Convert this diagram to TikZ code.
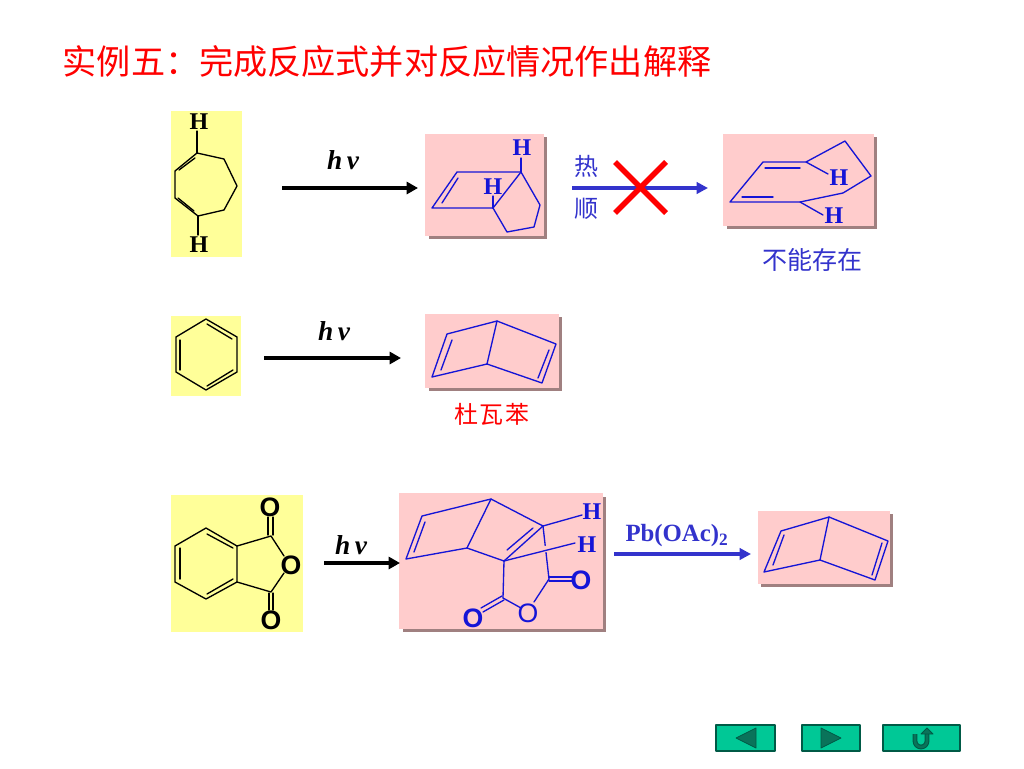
\documentclass[tikz,border=0pt]{standalone}
\usepackage{fontspec}
\setmainfont{Liberation Serif}
\setsansfont{Liberation Sans}
\newfontfamily\cjk{Noto Sans CJK SC}
\usetikzlibrary{arrows,arrows.meta}
\definecolor{boxyellow}{RGB}{255,255,153}
\definecolor{boxpink}{RGB}{255,204,204}
\definecolor{boxshadow}{RGB}{160,128,128}
\definecolor{molblue}{RGB}{20,20,215}
\definecolor{txtblue}{RGB}{51,51,204}
\definecolor{btnfill}{RGB}{0,200,150}
\definecolor{btnedge}{RGB}{0,90,70}
\definecolor{btnmark}{RGB}{10,115,90}
\tikzset{
  bond/.style={line width=1pt,color=black},
  bbond/.style={line width=1pt,color=molblue},
  rarrow/.style={line width=2.5pt,line cap=butt,color=black,-{Triangle[length=8.5pt,width=9pt]}},
  barrow/.style={line width=2.4pt,line cap=butt,color=txtblue,-{Triangle[length=8.5pt,width=8.5pt]}},
  atomh/.style={inner sep=0pt,font=\fontsize{18pt}{20pt}\selectfont\bfseries},
  atomo/.style={inner sep=0pt,font=\fontsize{20pt}{22pt}\selectfont\sffamily\bfseries},
  light/.style={font=\fontsize{20.5pt}{22pt}\selectfont\bfseries\itshape,inner sep=0pt},
  cjktext/.style={inner sep=0pt,font=\fontsize{18pt}{20pt}\selectfont\cjk},
  button/.style={draw=btnedge,fill=btnfill,line width=0.9pt},
  btnglyph/.style={draw=btnedge,fill=btnmark,line width=0.6pt}
}
\begin{document}
\begin{tikzpicture}[line cap=round,line join=round,>=triangle 45,x=0.75pt,y=-0.75pt]
\useasboundingbox (0,0) rectangle (1024,768);
\node [inner sep=0pt,color=red,font=\fontsize{25.6pt}{28pt}\selectfont\cjk] (title) at (387,61) {实例五：完成反应式并对反应情况作出解释};
% boxes
\fill [boxyellow] (171,111) rectangle (242,257);
\fill [boxyellow] (171,316) rectangle (241,396);
\fill [boxyellow] (171,495) rectangle (303,632);
\fill [boxshadow] (429,137) rectangle (547,239);
\fill [boxpink] (425,134) rectangle (544,236);
\fill [boxshadow] (727,137) rectangle (877,229);
\fill [boxpink] (723,134) rectangle (874,226);
\fill [boxshadow] (429,317) rectangle (562,391);
\fill [boxpink] (425,314) rectangle (559,388);
\fill [boxshadow] (403,497) rectangle (606,632);
\fill [boxpink] (399,493) rectangle (603,629);
\fill [boxshadow] (761,514) rectangle (893,587);
\fill [boxpink] (758,511) rectangle (890,584);
% cycloheptadiene
\draw [bond] (197,153)-- (224,159)-- (237,186)-- (224,210)-- (198,216)-- (175,198)-- (175,171)-- cycle;
\draw [bond] (195,158)-- (179,170);
\draw [bond] (178,198)-- (194,211);
\draw [bond] (197,153)-- (197,131);
\draw [bond] (198,216)-- (198,235);
\node [atomh] (hA) at (199,122) {H};
\node [atomh] (hB) at (199,245) {H};
% first product
\draw [bbond] (432,208)-- (457,172)-- (521,172)-- (540,205)-- (534,227)-- (507,232)-- (493,208)-- cycle;
\draw [bbond] (458,178)-- (442,203);
\draw [bbond] (521,172)-- (493,208);
\draw [bbond] (521,172)-- (521,158);
\draw [bbond] (493,208)-- (493,196);
\node [atomh,color=molblue] (hC) at (522,148) {H};
\node [atomh,color=molblue] (hD) at (493,187) {H};
% trans isomer
\draw [bbond] (730,202)-- (763,162)-- (806,162)-- (845,141)-- (871,176)-- (843,193)-- (800,202)-- cycle;
\draw [bbond] (765,168)-- (800,168);
\draw [bbond] (742,197)-- (773,197);
\draw [bbond] (806,162)-- (828,174);
\draw [bbond] (800,202)-- (823,215);
\node [atomh,color=molblue] (hE) at (839,178) {H};
\node [atomh,color=molblue] (hF) at (834,216) {H};
\node [inner sep=0pt,color=txtblue,font=\fontsize{18.75pt}{20pt}\selectfont\cjk] (forbid) at (812,260) {不能存在};
% first row arrows
\coordinate (startA) at (282,188);
\coordinate (endA) at (418,188);
\draw [rarrow] (startA)-- (endA);
\node [light] (hvA) at (343,160) {h\,ν};
\coordinate (startB) at (572,188);
\coordinate (endB) at (708,188);
\draw [barrow] (startB)-- (endB);
\node [cjktext,color=txtblue] (heat) at (586,166) {热};
\node [cjktext,color=txtblue] (shun) at (586,209) {顺};
\draw [line width=4pt,color=red,line cap=butt] (615,162)-- (666,213);
\draw [line width=4pt,color=red,line cap=butt] (666,162)-- (615,213);
% benzene
\draw [bond] (206,319)-- (237,337)-- (237,372)-- (206,390)-- (176,372)-- (176,337)-- cycle;
\draw [bond] (207,324)-- (232,339);
\draw [bond] (233,370)-- (207,386);
\draw [bond] (180,340)-- (180,370);
\coordinate (startC) at (264,358);
\coordinate (endC) at (401,358);
\draw [rarrow] (startC)-- (endC);
\node [light] (hvB) at (334,331) {h\,ν};
% dewar benzene
\draw [bbond] (432,377)-- (447,334)-- (497,321)-- (487,364)-- cycle;
\draw [bbond] (497,321)-- (556,344)-- (542,383)-- (487,364);
\draw [bbond] (452,340)-- (441,370);
\draw [bbond] (549,350)-- (538,378);
\node [cjktext,color=red] (dewar) at (492,414) {杜\hspace{1.2pt}瓦\hspace{1.2pt}苯};
% phthalic anhydride
\draw [bond] (206,528)-- (237,546)-- (237,582)-- (206,599)-- (175,582)-- (175,546)-- cycle;
\draw [bond] (207,534)-- (233,548);
\draw [bond] (233,579)-- (207,594);
\draw [bond] (180,548)-- (180,579);
\draw [bond] (237,546)-- (271,536)-- (284,556);
\draw [bond] (237,582)-- (271,592)-- (284,573);
\draw [bond] (268,517)-- (268,535);
\draw [bond] (273,517)-- (273,535);
\draw [bond] (269,593)-- (269,610);
\draw [bond] (273,593)-- (273,610);
\node [atomo] (oA) at (270,507) {O};
\node [atomo] (oB) at (291,565) {O};
\node [atomo] (oC) at (271,620) {O};
\coordinate (startD) at (324,563);
\coordinate (endD) at (400,563);
\draw [rarrow] (startD)-- (endD);
\node [light] (hvC) at (351,545) {h\,ν};
% adduct
\draw [bbond] (406,559)-- (422,516)-- (491,499)-- (467,548)-- cycle;
\draw [bbond] (425,522)-- (414,552);
\draw [bbond] (491,499)-- (543,526);
\draw [bbond] (467,548)-- (504,561);
\draw [bbond] (543,526)-- (504,561);
\draw [bbond] (533,528)-- (507,550);
\draw [bbond] (543,526)-- (549,579);
\draw [line width=3pt,color=boxpink,line cap=butt] (545,546)-- (546,552);
\draw [bbond] (543,526)-- (582,515);
\draw [bbond] (504,561)-- (575,543);
\draw [bbond] (504,561)-- (503,598);
\draw [bbond] (549,579)-- (534,602);
\draw [bbond] (503,598)-- (521,608);
\draw [bbond] (549,577)-- (572,577);
\draw [bbond] (549,581)-- (572,581);
\draw [bbond] (502,596)-- (481,608);
\draw [bbond] (504,600)-- (483,612);
\node [atomh,color=molblue] (hG) at (592,512) {H};
\node [atomh,color=molblue] (hH) at (587,545) {H};
\node [atomo,color=molblue] (oD) at (581,580) {O};
\node [atomo,color=molblue] (oE) at (473,618) {O};
\node [inner sep=0pt,color=molblue,font=\fontsize{20pt}{22pt}\selectfont\sffamily] (oF) at (528,613) {O};
% last step
\coordinate (startE) at (614,554);
\coordinate (endE) at (751,554);
\draw [barrow] (startE)-- (endE);
\node [inner sep=0pt,color=txtblue,font=\fontsize{18.6pt}{20pt}\selectfont\bfseries] (reagent) at (677,536) {Pb(OAc)$_{\mathbf{2}}$};
\draw [bbond] (764,572)-- (781,531)-- (829,517)-- (820,560)-- cycle;
\draw [bbond] (829,517)-- (888,541)-- (875,580)-- (820,560);
\draw [bbond] (784,535)-- (773,565);
\draw [bbond] (882,543)-- (872,575);
% buttons
\draw [button] (716,725) rectangle (775,751);
\draw [btnglyph] (736,738)-- (756,728)-- (756,748)-- cycle;
\draw [button] (802,725) rectangle (860,751);
\draw [btnglyph] (821,728)-- (841,738)-- (821,748)-- cycle;
\draw [button] (883,725) rectangle (960,751);
\draw [line width=3.6pt,color=btnedge,line cap=butt] (915,734)-- (915,741) arc (180:0:6 and 6)-- (927,733);
\draw [line width=2pt,color=btnmark,line cap=butt] (915,734)-- (915,741) arc (180:0:6 and 6)-- (927,733);
\draw [btnglyph] (921,734)-- (933,734)-- (927,728)-- cycle;
\end{tikzpicture}
\end{document}
